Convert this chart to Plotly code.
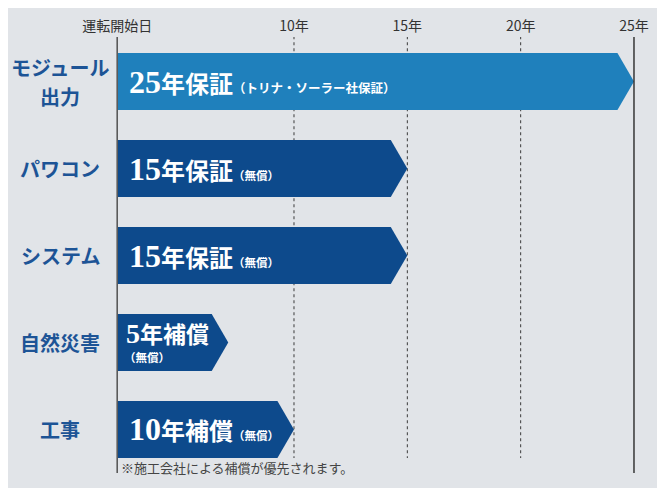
import plotly.graph_objects as go

# ---------------- data ----------------
rows = ["モジュール<br>出力", "パワコン", "システム", "自然災害", "工事"]
warranty_years = [25, 15, 15, 5, 10]
# where each arrow tip sits on the year axis (the 5-year arrow is drawn a little longer)
bar_end = [25, 15, 15, 7.1, 10]
bar_label = ["年保証", "年保証", "年保証", "年補償", "年補償"]
bar_note = ["（トリナ・ソーラー社保証）", "（無償）", "（無償）", "（無償）", "（無償）"]
start_year = 2.2  # 運転開始日 (schematic start of all arrows)
tick_vals = [start_year, 10, 15, 20, 25]
tick_text = ["運転開始日", "10年", "15年", "20年", "25年"]
dotted_years = [10, 15, 20]
footnote = "※施工会社による補償が優先されます。"

# ---------------- style ----------------
# the page body has an 8px margin, so the figure is sized/placed to compensate
W, H = 657, 483
BG = "#e1e4e8"
LIGHT = "#1f80bc"
NAVY = "#0d4a8c"
bar_colors = [LIGHT, NAVY, NAVY, NAVY, NAVY]
LABEL_C = "#1d5496"
SANS = "Noto Sans CJK JP"
SERIF = "Liberation Serif, Noto Sans CJK JP"

TOP = 29
x_range = [-2.6175, 26.368]
y_range = [4.707, -0.5115]
half_h = 0.328   # half bar height (row units)
tip = 0.73       # arrow tip length (years)

fig = go.Figure()

# bars as arrow-shaped polygons
for i, (end, col) in enumerate(zip(bar_end, bar_colors)):
    xs = [start_year, end - tip, end, end - tip, start_year, start_year]
    ys = [i - half_h, i - half_h, i, i + half_h, i + half_h, i - half_h]
    fig.add_trace(go.Scatter(x=xs, y=ys, mode="lines", fill="toself",
                             fillcolor=col, line=dict(width=0, color=col),
                             hoverinfo="skip", showlegend=False))

PH = H - TOP
shapes = [dict(type="rect", xref="paper", yref="paper",
               x0=0, x1=1.0, y0=3 / PH, y1=H / PH,
               fillcolor=BG, line=dict(width=0), layer="below")]

for yv in dotted_years:
    shapes.append(dict(type="line", xref="x", yref="y", x0=yv, x1=yv,
                       y0=-0.52, y1=len(rows) - 1 + half_h,
                       line=dict(color="#3a3a3a", width=1, dash="dot"), layer="below"))
shapes.append(dict(type="line", xref="x", yref="y", x0=start_year, x1=start_year,
                   y0=-0.52, y1=4.5, line=dict(color="#5a5a5a", width=1.6), layer="above"))
shapes.append(dict(type="line", xref="x", yref="y", x0=25, x1=25,
                   y0=-0.52, y1=4.5, line=dict(color="#2a2a2a", width=1.4), layer="above"))

annotations = []
# row labels
for i, lab in enumerate(rows):
    parts = lab.split("<br>")
    shifts = [0] if len(parts) == 1 else [14.5, -14.5]
    for p, s in zip(parts, shifts):
        annotations.append(dict(xref="paper", yref="y", x=52 / W, y=i, yshift=s,
                                text=p, showarrow=False, xanchor="center", yanchor="middle",
                                font=dict(family=SANS, size=20, color=LABEL_C, weight="bold")))

# bar texts
for i, (yrs, lab, note) in enumerate(zip(warranty_years, bar_label, bar_note)):
    num = str(yrs)
    if yrs == 5:
        annotations.append(dict(xref="x", yref="y", x=start_year, y=i, xshift=7, yshift=9,
                                text=f"<span style='font-size:28px'>{num}</span>"
                                     f"<span style='font-size:23px'>{lab}</span>",
                                showarrow=False, xanchor="left", yanchor="middle",
                                font=dict(family=SERIF, size=23, color="white", weight="bold")))
        annotations.append(dict(xref="x", yref="y", x=start_year, y=i, xshift=5, yshift=-15,
                                text=note, showarrow=False, xanchor="left", yanchor="middle",
                                font=dict(family=SERIF, size=11.5, color="white", weight="bold")))
    else:
        nsize = 12.5 if len(note) > 5 else 11.5
        annotations.append(dict(xref="x", yref="y", x=start_year, y=i, xshift=10, yshift=0,
                                text=f"<span style='font-size:32px'>{num}</span>"
                                     f"<span style='font-size:24px'>{lab}</span>"
                                     f"<span style='font-size:{nsize}px'>{note}</span>",
                                showarrow=False, xanchor="left", yanchor="middle",
                                font=dict(family=SERIF, size=24, color="white", weight="bold")))

# footnote
annotations.append(dict(xref="x", yref="y", x=start_year, y=len(rows) - 1, xshift=2, yshift=-38,
                        text=footnote, showarrow=False, xanchor="left", yanchor="middle",
                        font=dict(family=SANS, size=13, color="#444444")))

fig.update_layout(
    width=W, height=H, autosize=False,
    margin=dict(l=0, r=0, t=TOP, b=0, pad=0),
    paper_bgcolor="white", plot_bgcolor="rgba(0,0,0,0)",
    shapes=shapes, annotations=annotations, showlegend=False,
    xaxis=dict(range=x_range, side="top", tickmode="array", tickvals=tick_vals,
               ticktext=tick_text, showgrid=False, zeroline=False, showline=False,
               ticks="", ticklabelstandoff=2,
               tickfont=dict(family=SANS, size=14, color="#333333"),
               fixedrange=True),
    yaxis=dict(range=y_range, visible=False, fixedrange=True),
)

fig.write_html("out.html")
